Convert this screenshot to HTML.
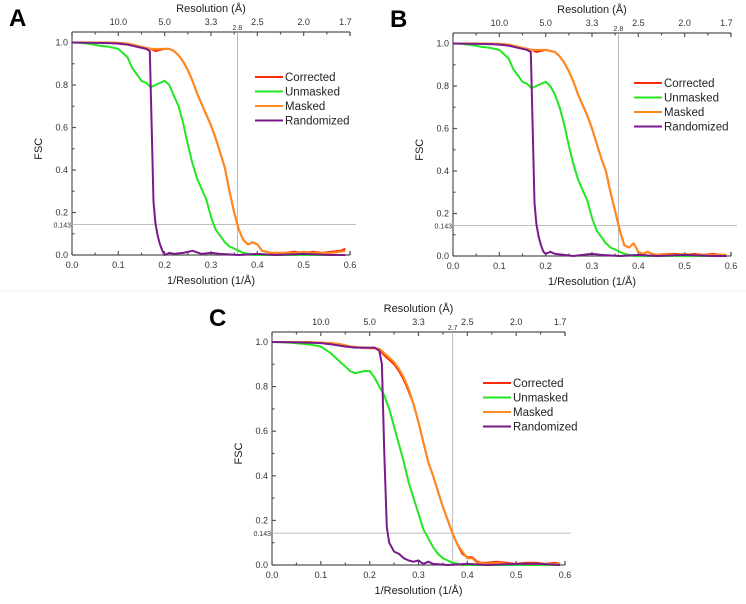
<!DOCTYPE html>
<html><head><meta charset="utf-8"><style>
html,body{margin:0;padding:0;background:#fff;}
svg{display:block;font-family:"Liberation Sans",sans-serif;}
</style></head><body>
<svg id="fig" width="746" height="604" viewBox="0 0 746 604">
<line x1="0" y1="291" x2="746" y2="291" stroke="#eee" stroke-width="1"/>
</svg>
<script>
// ---------- data ----------
const xGrid = [0,0.02,0.04,0.06,0.08,0.10,0.12,0.13,0.14,0.15,0.16,0.17,0.18,0.19,0.20,0.21,0.22,0.23,0.24,0.25,0.26,0.27,0.28,0.29,0.30,0.31,0.32,0.33,0.34,0.35,0.36,0.37,0.38,0.39,0.40,0.41,0.42,0.43,0.44,0.46,0.48,0.50,0.52,0.54,0.56,0.58,0.59];
const aMasked    = [1,1,1,1,0.999,0.998,0.995,0.99,0.985,0.98,0.975,0.97,0.97,0.97,0.97,0.97,0.96,0.94,0.91,0.87,0.82,0.76,0.71,0.66,0.61,0.55,0.48,0.41,0.30,0.20,0.12,0.07,0.05,0.06,0.05,0.02,0.015,0.01,0.01,0.01,0.01,0.015,0.01,0.01,0.01,0.015,0.02];
const aCorrected = [1,1,1,1,0.999,0.998,0.995,0.99,0.985,0.98,0.975,0.97,0.96,0.965,0.97,0.97,0.96,0.94,0.91,0.87,0.82,0.76,0.71,0.66,0.61,0.55,0.48,0.41,0.30,0.20,0.12,0.07,0.05,0.06,0.05,0.02,0.015,0.01,0.01,0.01,0.015,0.01,0.015,0.01,0.015,0.02,0.03];
const aUnmasked  = [1,0.998,0.993,0.985,0.98,0.97,0.93,0.88,0.85,0.82,0.81,0.79,0.80,0.81,0.82,0.80,0.75,0.70,0.62,0.52,0.43,0.36,0.31,0.26,0.18,0.12,0.09,0.06,0.04,0.03,0.02,0.01,0.005,0,0,0,0,0,0,0,0,0,0,0,0,0,0];
const aRandX = [0,0.04,0.08,0.10,0.12,0.14,0.16,0.168,0.172,0.176,0.18,0.185,0.19,0.195,0.20,0.21,0.22,0.24,0.26,0.28,0.30,0.32,0.36,0.40,0.44,0.50,0.56,0.59];
const aRand  = [1,0.999,0.997,0.995,0.99,0.98,0.97,0.96,0.6,0.25,0.15,0.09,0.05,0.02,0,0.01,0.005,0.01,0.02,0.005,0.01,0.005,0,0.005,0,0.005,0,0];

const bMasked    = [1,1,1,1,0.999,0.998,0.995,0.99,0.985,0.98,0.975,0.97,0.97,0.97,0.97,0.965,0.96,0.94,0.91,0.87,0.82,0.76,0.71,0.66,0.60,0.53,0.46,0.40,0.30,0.21,0.12,0.05,0.04,0.06,0.02,0.01,0.02,0.01,0.005,0.01,0.005,0.01,0.005,0.005,0.005,0.005,0.005];
const bCorrected = [1,1,1,1,0.999,0.998,0.995,0.99,0.985,0.98,0.975,0.97,0.96,0.965,0.97,0.965,0.96,0.94,0.91,0.87,0.82,0.76,0.71,0.66,0.60,0.53,0.46,0.40,0.30,0.21,0.12,0.05,0.04,0.06,0.02,0.01,0.02,0.01,0.005,0.01,0.01,0.005,0.01,0.005,0.01,0.005,0.005];
const bUnmasked  = [1,0.998,0.993,0.985,0.98,0.97,0.93,0.88,0.85,0.82,0.81,0.79,0.80,0.81,0.82,0.80,0.76,0.70,0.62,0.52,0.43,0.36,0.31,0.26,0.18,0.12,0.09,0.06,0.04,0.03,0.02,0.01,0.005,0,0,0,0,0,0,0,0,0,0,0,0,0,0];
const bRandX = [0,0.04,0.08,0.10,0.12,0.14,0.16,0.168,0.172,0.176,0.18,0.185,0.19,0.195,0.20,0.21,0.22,0.24,0.26,0.28,0.30,0.32,0.36,0.40,0.44,0.50,0.56,0.59];
const bRand  = [1,0.999,0.997,0.995,0.99,0.98,0.97,0.96,0.6,0.25,0.15,0.09,0.05,0.02,0.01,0.02,0.01,0.005,0,0.005,0.01,0.005,0,0.005,0,0.005,0,0];

const cMasked    = [1,1,1,1,0.999,0.997,0.995,0.993,0.99,0.985,0.98,0.978,0.975,0.973,0.972,0.972,0.97,0.95,0.93,0.91,0.88,0.84,0.79,0.72,0.64,0.55,0.46,0.40,0.33,0.26,0.20,0.14,0.09,0.06,0.03,0.03,0.01,0.01,0.005,0.01,0.005,0.005,0.005,0.005,0.005,0.005,0.005];
const cCorrected = [1,1,1,1,0.999,0.997,0.995,0.993,0.99,0.985,0.98,0.978,0.975,0.973,0.972,0.972,0.965,0.94,0.92,0.90,0.87,0.83,0.78,0.72,0.64,0.55,0.46,0.40,0.33,0.26,0.20,0.14,0.09,0.05,0.035,0.035,0.015,0.01,0.01,0.015,0.01,0.005,0.01,0.01,0.005,0.01,0.005];
const cUnmasked  = [1,0.999,0.997,0.993,0.988,0.98,0.95,0.93,0.91,0.89,0.87,0.86,0.865,0.87,0.87,0.84,0.80,0.76,0.70,0.62,0.54,0.46,0.37,0.30,0.23,0.16,0.12,0.08,0.05,0.03,0.02,0.01,0.005,0,0,0,0,0,0,0,0,0,0,0,0,0,0];
const cRandX = [0,0.04,0.08,0.10,0.12,0.15,0.17,0.19,0.21,0.22,0.225,0.23,0.235,0.24,0.25,0.26,0.27,0.28,0.29,0.30,0.31,0.32,0.33,0.36,0.40,0.44,0.50,0.55,0.59];
const cRand  = [1,0.999,0.997,0.995,0.99,0.98,0.975,0.975,0.975,0.96,0.9,0.5,0.17,0.1,0.06,0.05,0.03,0.02,0.015,0.02,0.005,0.015,0.005,0,0.005,0,0.005,0.005,0];

const bottomTicks = [0,0.1,0.2,0.3,0.4,0.5,0.6];
const leftTicks = [0,0.2,0.4,0.6,0.8,1.0];
const topTickLabels = ["10.0","5.0","3.3","2.5","2.0","1.7"];
const topTickPos = [0.1,0.2,0.3,0.4,0.5,0.59];
const legendNames = ["Corrected","Unmasked","Masked","Randomized"];
const colors = {Corrected:"#ff2a0a",Unmasked:"#22e622",Masked:"#ff8a1e",Randomized:"#7a1a8a"};

const panels = [
 {id:"a",letter:"A",x0:72,x1:350,y0:255,y1:42.5,top:32,cut:0.357,cutLabel:"2.8",lx:255,ly:77,
  masked:aMasked,corr:aCorrected,unm:aUnmasked,rx:aRandX,rand:aRand},
 {id:"b",letter:"B",x0:453,x1:731,y0:256,y1:43.5,top:33,cut:0.357,cutLabel:"2.8",lx:634,ly:83,
  masked:bMasked,corr:bCorrected,unm:bUnmasked,rx:bRandX,rand:bRand},
 {id:"c",letter:"C",x0:272,x1:565,y0:565,y1:342,top:332,cut:0.37,cutLabel:"2.7",lx:483,ly:383,
  masked:cMasked,corr:cCorrected,unm:cUnmasked,rx:cRandX,rand:cRand}
];

const NS="http://www.w3.org/2000/svg";
const svg=document.getElementById('fig');
function mk(tag,attrs,parent,text){const e=document.createElementNS(NS,tag);for(const k in attrs)e.setAttribute(k,attrs[k]);if(text!==undefined)e.textContent=text;(parent||svg).appendChild(e);return e;}

panels.forEach(p=>{
  const g=mk('g',{});
  
  
  const sx=v=>p.x0+(v/0.6)*(p.x1-p.x0);
  const sy=v=>p.y0-(v)*(p.y0-p.y1);
  const yTop=p.top;
  const ax=mk('g',{stroke:"#555","stroke-width":"1.2",fill:"none"},g);
  
  
  mk('line',{x1:p.x0,y1:p.y0,x2:p.x1,y2:p.y0},ax);
  mk('line',{x1:p.x0,y1:p.y0,x2:p.x0,y2:yTop},ax);
  mk('line',{x1:p.x0,y1:yTop,x2:p.x1,y2:yTop},ax);
  mk('line',{x1:p.x1,y1:p.y0,x2:p.x1,y2:p.y0-4},ax);
  mk('line',{x1:p.x1,y1:yTop,x2:p.x1,y2:yTop+4},ax);
  for(let i=0;i<=12;i++){const v=i*0.05;const L=i%2?2.5:4;
    mk('line',{x1:sx(v),y1:p.y0,x2:sx(v),y2:p.y0-L},ax);
    mk('line',{x1:sx(v),y1:yTop,x2:sx(v),y2:yTop+L},ax);}
  for(let i=0;i<=10;i++){const v=i*0.1;const L=i%2?2.5:4;
    mk('line',{x1:p.x0,y1:sy(v),x2:p.x0+L,y2:sy(v)},ax);}
  bottomTicks.forEach(v=>{const t=mk('text',{x:sx(v),y:p.y0+13,"font-size":"9","text-anchor":"middle",fill:"#333"},g,v.toFixed(1));
    });
  leftTicks.forEach(v=>{const t=mk('text',{x:p.x0-4,y:sy(v)+3,"font-size":"9","text-anchor":"end",fill:"#333"},g,v.toFixed(1));
    });
  topTickLabels.forEach((s,i)=>{const t=mk('text',{x:sx(topTickPos[i]),y:yTop-7,"font-size":"9","text-anchor":"middle",fill:"#333"},g,s);
    });
  const hl=mk('line',{x1:p.x0,y1:sy(0.143),x2:p.x1+6,y2:sy(0.143),stroke:"#aaa","stroke-width":"0.8"},g);
  
  const vl=mk('line',{x1:sx(p.cut),y1:yTop,x2:sx(p.cut),y2:p.y0,stroke:"#aaa","stroke-width":"0.8"},g);
  
  const tl=mk('text',{x:p.x0-1,y:sy(0.143)+3,"font-size":"7","text-anchor":"end",fill:"#333"},g,"0.143");
  
  const cl=mk('text',{x:sx(p.cut),y:yTop-2,"font-size":"7","text-anchor":"middle",fill:"#333"},g,p.cutLabel);
  
  const xt=mk('text',{x:(p.x0+p.x1)/2,y:p.y0+29,"font-size":"11","text-anchor":"middle",fill:"#222"},g,"1/Resolution (1/Å)");
  
  const tt=mk('text',{x:(p.x0+p.x1)/2,y:yTop-20,"font-size":"11","text-anchor":"middle",fill:"#222"},g,"Resolution (Å)");
  
  const yc=(p.y0+p.y1)/2;
  const yt=mk('text',{x:p.x0-30,y:yc,"font-size":"11","text-anchor":"middle",fill:"#222",transform:`rotate(-90 ${p.x0-30} ${yc})`},g,"FSC");
  
  const pl=mk('text',{x:p.x0-63,y:yTop-6,"font-size":"24","font-weight":"bold",fill:"#000"},g,p.letter);
  
  const path=(xs,ys)=>xs.map((x,i)=>(i?'L':'M')+sx(x).toFixed(1)+','+sy(ys[i]).toFixed(1)).join('');
  const series=[["Corrected",xGrid,p.corr],["Unmasked",xGrid,p.unm],["Masked",xGrid,p.masked],["Randomized",p.rx,p.rand]];
  series.forEach(([n,xs,ys])=>{
    const e=mk('path',{d:path(xs,ys),fill:"none",stroke:colors[n],"stroke-width":"2","stroke-linejoin":"round"},g);
    
    
  });
  legendNames.forEach((n,i)=>{
    const lg=mk('g',{},g);
    
    
    const yy=p.ly+i*14.5;
    mk('line',{x1:p.lx,y1:yy,x2:p.lx+28,y2:yy,stroke:colors[n],"stroke-width":"2"},lg);
    mk('text',{x:p.lx+30,y:yy+4,"font-size":"11.5",fill:"#222"},lg,n);
  });
});
</script>
</body></html>
